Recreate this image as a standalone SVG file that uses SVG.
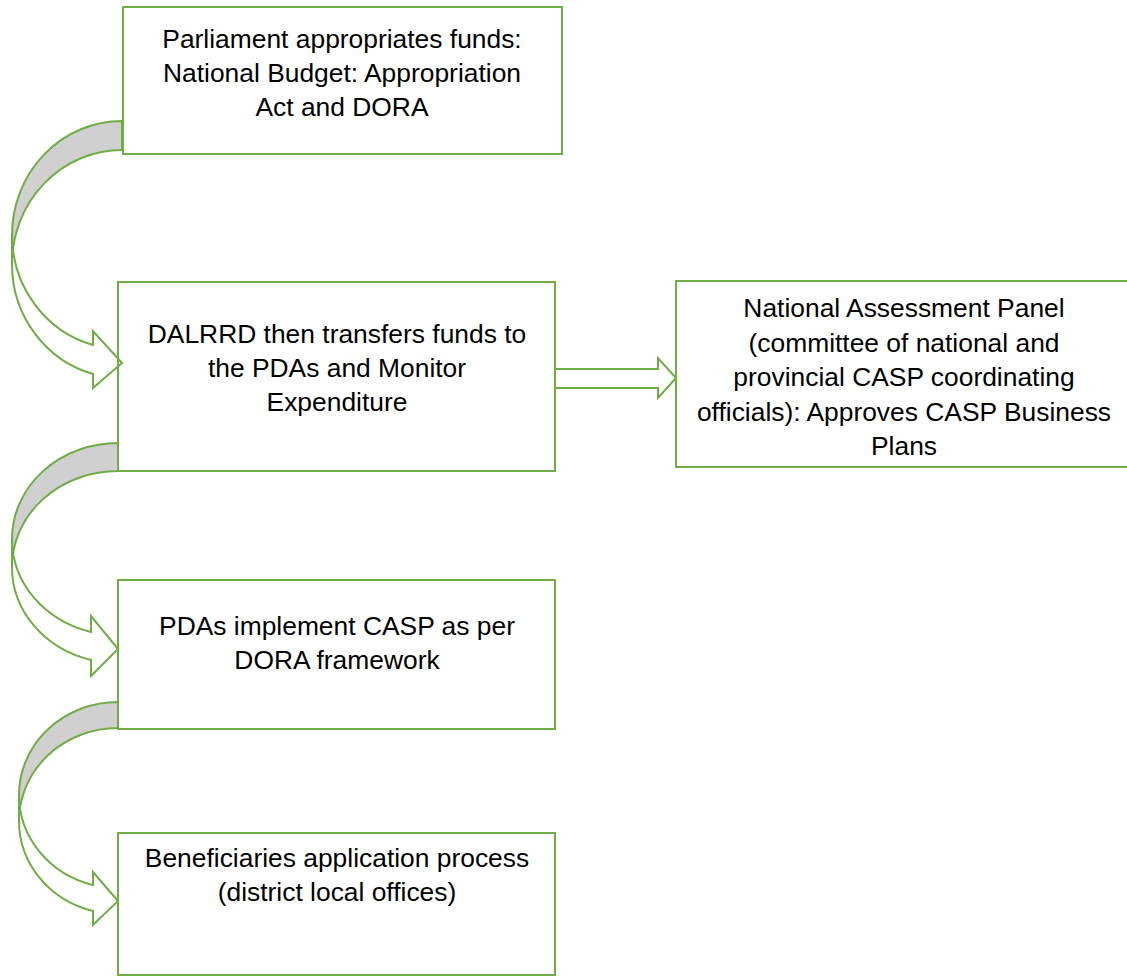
<svg xmlns="http://www.w3.org/2000/svg" width="1127" height="980" viewBox="0 0 1127 980">
<style>
.box{fill:none;stroke:#70ad47;stroke-width:2}
.back{fill:#d0d0d0;stroke:#70ad47;stroke-width:2;stroke-linejoin:miter}
.front{fill:#ffffff;stroke:#70ad47;stroke-width:2;stroke-linejoin:miter}
text{font-family:"Liberation Sans",Arial,sans-serif;font-size:26.4px;fill:#000;text-anchor:middle}
</style>
<rect width="1127" height="980" fill="#ffffff"/>
<g id="connectors">
<path class="back" d="M122,121 A110,114 0 0 0 12,235 L12,264 A110,114 0 0 1 122,150 Z"/>
<path class="front" d="M12,235 A110,114 0 0 0 93,345 L93,331 L122,363 L93,388 L93,374 A110,114 0 0 1 12,264 Z"/>
<path class="back" d="M118,443 A106,96 0 0 0 12,539 L12,567 A106,96 0 0 1 118,471 Z"/>
<path class="front" d="M12,539 A106,96 0 0 0 91,632 L91,616 L118,649 L91,676 L91,660 A106,96 0 0 1 12,567 Z"/>
<path class="back" d="M118,702 A99,93 0 0 0 19,795 L19,821 A99,93 0 0 1 118,728 Z"/>
<path class="front" d="M19,795 A99,93 0 0 0 93,885 L93,872 L118,901 L93,925 L93,911 A99,93 0 0 1 19,821 Z"/>
<path class="front" d="M555,369 L658,369 L658,358 L676,378 L658,398 L658,388 L555,388 Z"/>
</g>
<g id="node-parliament">
<rect class="box" x="123" y="7" width="439" height="147"/>
<text x="342" y="48">Parliament appropriates funds:</text>
<text x="342" y="82">National Budget: Appropriation</text>
<text x="342" y="116">Act and DORA</text>
</g>
<g id="node-dalrrd">
<rect class="box" x="118" y="282" width="437" height="189"/>
<text x="337" y="343">DALRRD then transfers funds to</text>
<text x="337" y="377">the PDAs and Monitor</text>
<text x="337" y="411">Expenditure</text>
</g>
<g id="node-nap">
<rect class="box" x="676" y="281" width="460" height="186"/>
<text x="904" y="317">National Assessment Panel</text>
<text x="904" y="352">(committee of national and</text>
<text x="904" y="386">provincial CASP coordinating</text>
<text x="904" y="421">officials): Approves CASP Business</text>
<text x="904" y="455">Plans</text>
</g>
<g id="node-pdas">
<rect class="box" x="118" y="580" width="437" height="149"/>
<text x="337" y="635">PDAs implement CASP as per</text>
<text x="337" y="669">DORA framework</text>
</g>
<g id="node-beneficiaries">
<rect class="box" x="118" y="833" width="437" height="142"/>
<text x="337" y="867">Beneficiaries application process</text>
<text x="337" y="901">(district local offices)</text>
</g>
</svg>
